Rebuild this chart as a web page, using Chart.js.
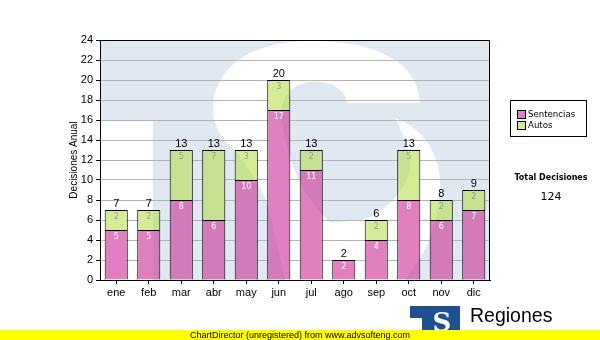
<!DOCTYPE html>
<html>
<head>
<meta charset="utf-8">
<script src="https://cdn.jsdelivr.net/npm/chart.js@4.4.1/dist/chart.umd.min.js"></script>
<style>
  html, body { margin: 0; padding: 0; background: #fff; }
  canvas { display: block; }
</style>
</head>
<body>
<canvas id="decisiones" width="600" height="340"></canvas>
<script>
// ============ DATOS ============
const meses = ["ene", "feb", "mar", "abr", "may", "jun", "jul", "ago", "sep", "oct", "nov", "dic"];
const sentencias = [5, 5, 8, 6, 10, 17, 11, 2, 4, 8, 6, 7];
const autos = [2, 2, 5, 7, 3, 3, 2, 0, 2, 5, 2, 2];
const series = ["Sentencias", "Autos"];
const yMin = 0;
const yMax = 24;
const yStep = 2;

const colores = ["#e080c0", "#d5ec96"];
const totales = sentencias.map((v, i) => v + autos[i]);
const totalDecisiones = totales.reduce((a, b) => a + b, 0);

const ARIAL = "Arial, 'Liberation Sans', sans-serif";
const VERDANA = "'DejaVu Sans', Verdana, sans-serif";

// ============ MARCA DE AGUA (logo TS) ============
let marcaCache = null;

function dibujarMarca(w, h) {
  if (marcaCache && marcaCache.width === w && marcaCache.height === h) return marcaCache;
  const off = document.createElement("canvas");
  off.width = w;
  off.height = h;
  const o = off.getContext("2d");
  o.fillStyle = "#e0e8f1";
  o.fillRect(0, 0, w, h);

  // huecos blancos: bajo el brazo de la T y la S
  o.globalCompositeOperation = "destination-out";
  o.fillRect(0, 81, 53, h);
  o.beginPath();
  o.moveTo(320, 63);
  o.bezierCurveTo(318, 20, 272, 1, 212, 1);
  o.bezierCurveTo(150, 1, 113, 28, 113, 70);
  o.bezierCurveTo(113, 85, 122, 100, 135, 110);
  o.bezierCurveTo(150, 130, 163, 150, 168, 165);
  o.lineTo(185, 240);
  o.lineTo(185, 260);
  o.lineTo(320, 260);
  o.lineTo(305, 240);
  o.bezierCurveTo(318, 220, 335, 205, 340, 150);
  o.bezierCurveTo(342, 125, 330, 90, 295, 78);
  o.bezierCurveTo(305, 95, 312, 120, 310, 130);
  o.bezierCurveTo(305, 150, 285, 175, 260, 180);
  o.bezierCurveTo(245, 182, 232, 182, 230, 182);
  o.bezierCurveTo(215, 170, 195, 140, 188, 110);
  o.bezierCurveTo(185, 100, 183, 92, 183, 85);
  o.bezierCurveTo(178, 72, 182, 45, 210, 42);
  o.bezierCurveTo(230, 40, 247, 50, 247, 63);
  o.closePath();
  o.fill();

  marcaCache = off;
  return off;
}

const marcaAgua = {
  id: "marcaAgua",
  beforeDraw(chart) {
    const ca = chart.chartArea;
    const img = dibujarMarca(ca.right - ca.left, ca.bottom - ca.top);
    chart.ctx.drawImage(img, ca.left, ca.top);
  },
  afterDatasetsDraw(chart) {
    // la marca tiñe levemente las barras
    const ca = chart.chartArea;
    const img = dibujarMarca(ca.right - ca.left, ca.bottom - ca.top);
    const ctx = chart.ctx;
    ctx.save();
    ctx.beginPath();
    chart.data.datasets.forEach((ds, d) => {
      chart.getDatasetMeta(d).data.forEach((bar) => {
        const half = bar.width / 2;
        ctx.rect(bar.x - half, Math.min(bar.y, bar.base), bar.width, Math.abs(bar.base - bar.y));
      });
    });
    ctx.clip();
    ctx.globalCompositeOperation = "multiply";
    ctx.globalAlpha = 0.5;
    ctx.drawImage(img, ca.left, ca.top);
    ctx.restore();
  }
};

// ============ ETIQUETAS DE VALOR ============
const etiquetas = {
  id: "etiquetas",
  afterDatasetsDraw(chart) {
    const ctx = chart.ctx;
    const y = chart.scales.y;
    ctx.save();
    ctx.textAlign = "center";
    // valores dentro de cada segmento
    ctx.font = "8px " + VERDANA;
    ctx.textBaseline = "middle";
    chart.data.datasets.forEach((ds, d) => {
      const meta = chart.getDatasetMeta(d);
      ctx.fillStyle = d === 0 ? "#ffffff" : "#9a9a9a";
      ds.data.forEach((v, i) => {
        if (!v) return;
        const bar = meta.data[i];
        ctx.fillText(String(v), bar.x, bar.y + 7);
      });
    });
    // total encima de cada barra
    ctx.font = "11px " + ARIAL;
    ctx.fillStyle = "#000";
    ctx.textBaseline = "alphabetic";
    const meta0 = chart.getDatasetMeta(0);
    totales.forEach((t, i) => {
      ctx.fillText(String(t), meta0.data[i].x, y.getPixelForValue(t) - 3);
    });
    ctx.restore();
  }
};

// ============ MARCO, LEYENDA, TOTAL, PIE ============
const adornos = {
  id: "adornos",
  afterDraw(chart) {
    const ctx = chart.ctx;
    const ca = chart.chartArea;
    ctx.save();

    // marco del area de trazado
    ctx.strokeStyle = "#000";
    ctx.lineWidth = 1;
    ctx.strokeRect(ca.left + 0.5, ca.top + 0.5, ca.right - ca.left - 1, ca.bottom - ca.top);

    // titulo del eje y
    ctx.save();
    ctx.translate(77, (ca.top + ca.bottom) / 2);
    ctx.rotate(-Math.PI / 2);
    ctx.font = "10px " + ARIAL;
    ctx.fillStyle = "#000";
    ctx.textAlign = "center";
    ctx.textBaseline = "alphabetic";
    ctx.fillText("Decisiones Anual", 0, 0);
    ctx.restore();

    // leyenda
    ctx.fillStyle = "#fff";
    ctx.fillRect(510, 100, 76, 36);
    ctx.strokeStyle = "#000";
    ctx.strokeRect(510.5, 100.5, 76, 36);
    ctx.font = "8.6px " + VERDANA;
    ctx.textAlign = "left";
    ctx.textBaseline = "middle";
    series.forEach((s, i) => {
      const yy = 111 + i * 11;
      ctx.fillStyle = colores[i];
      ctx.fillRect(518, yy, 7, 7);
      ctx.strokeStyle = "#000";
      ctx.strokeRect(517.5, yy - 0.5, 8, 8);
      ctx.fillStyle = "#000";
      ctx.fillText(s, 528, yy + 3.5);
    });

    // total de decisiones
    ctx.textAlign = "center";
    ctx.fillStyle = "#000";
    ctx.font = "bold 8px " + VERDANA;
    ctx.fillText("Total Decisiones", 551, 178);
    ctx.font = "11px " + VERDANA;
    ctx.fillText(String(totalDecisiones), 551, 197);

    // logo Regiones
    ctx.fillStyle = "#1d4f91";
    ctx.fillRect(410, 306, 50, 30);
    ctx.fillStyle = "#fff";
    ctx.fillRect(410, 318, 12, 18);
    ctx.font = "bold 26px 'DejaVu Serif', serif";
    ctx.textBaseline = "alphabetic";
    ctx.fillText("S", 442, 331);
    ctx.fillStyle = "#000";
    ctx.textAlign = "left";
    ctx.font = "19.5px " + ARIAL;
    ctx.fillText("Regiones", 470, 322);
    ctx.font = "11px " + ARIAL;
    ctx.fillText("Tribunal Supremo de Justicia", 468, 337.5);

    // franja amarilla inferior
    ctx.fillStyle = "#ffff00";
    ctx.fillRect(0, 330, 600, 10);
    ctx.fillStyle = "#000";
    ctx.font = "9px " + ARIAL;
    ctx.fillText("ChartDirector (unregistered) from www.advsofteng.com", 190, 338);

    ctx.restore();
  }
};

// ============ GRAFICO ============
const ctx = document.getElementById("decisiones").getContext("2d");
new Chart(ctx, {
  type: "bar",
  data: {
    labels: meses,
    datasets: [
      {
        label: series[0],
        data: sentencias,
        backgroundColor: colores[0],
        borderColor: "#000",
        borderWidth: 1,
        barPercentage: 0.71,
        categoryPercentage: 1
      },
      {
        label: series[1],
        data: autos,
        backgroundColor: colores[1],
        borderColor: "#000",
        borderWidth: 1,
        barPercentage: 0.71,
        categoryPercentage: 1
      }
    ]
  },
  options: {
    responsive: false,
    animation: false,
    devicePixelRatio: 1,
    layout: { padding: { top: 40, right: 110, bottom: 40, left: 0 } },
    plugins: {
      legend: { display: false },
      tooltip: { enabled: false }
    },
    scales: {
      x: {
        stacked: true,
        afterFit: (s) => { s.height = 20; },
        grid: { offset: false, drawOnChartArea: false, tickLength: 4, tickColor: "#000" },
        border: { color: "#000" },
        ticks: { color: "#000", padding: 2, font: { family: ARIAL, size: 11 } }
      },
      y: {
        stacked: true,
        min: yMin,
        max: yMax,
        afterFit: (s) => { s.width = 100; },
        grid: { color: "#b4b4b4", tickLength: 4, tickColor: "#000" },
        border: { color: "#000" },
        ticks: { stepSize: yStep, color: "#000", padding: 3, font: { family: ARIAL, size: 11 } }
      }
    }
  },
  plugins: [marcaAgua, etiquetas, adornos]
});
</script>
</body>
</html>
